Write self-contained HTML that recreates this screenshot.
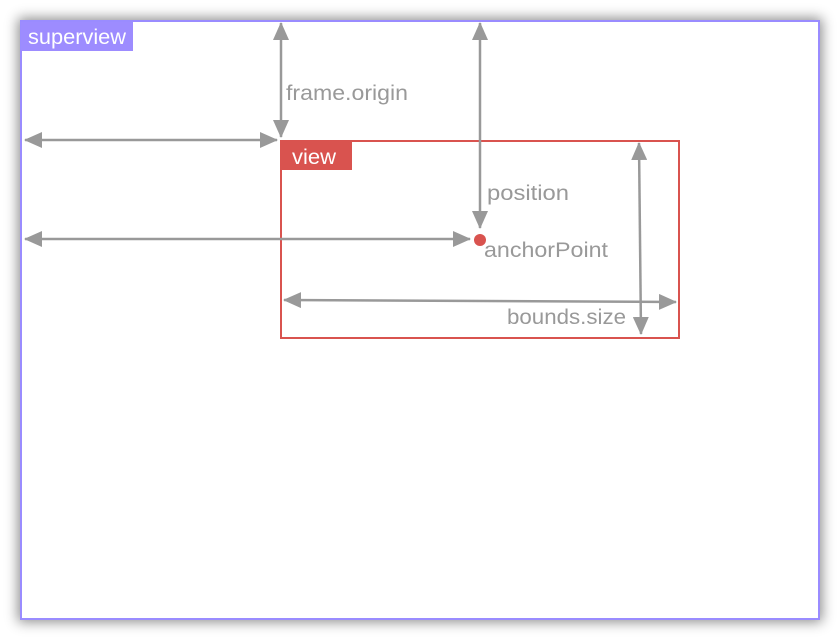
<!DOCTYPE html>
<html><head><style>
body{margin:0;width:840px;height:640px;background:#fff;overflow:hidden;font-family:"Liberation Sans",sans-serif;position:relative}
#shd{position:absolute;left:21px;top:21px;width:798px;height:598px;box-shadow:0 0 12px 3px rgba(0,0,0,0.45);background:#fff}
svg{position:absolute;left:0;top:0}
</style></head><body>
<div id="shd"></div>
<svg width="840" height="640" xmlns="http://www.w3.org/2000/svg">
<defs>
<marker id="a" viewBox="0 0 18 16" refX="17" refY="8" markerWidth="18" markerHeight="16" markerUnits="userSpaceOnUse" orient="auto-start-reverse"><path d="M0 0L18 8L0 16z" fill="#999"/></marker>
</defs>
<rect x="21" y="21" width="798" height="598" fill="#fff" stroke="#9a8cff" stroke-width="2"/>
<rect x="21" y="22" width="112" height="29" fill="#9d8cff"/>
<text x="28" y="44" font-size="21" fill="#fff" textLength="98" lengthAdjust="spacingAndGlyphs">superview</text>
<rect x="281" y="141" width="398" height="197" fill="none" stroke="#d9534f" stroke-width="2"/>
<rect x="282" y="142" width="70" height="28" fill="#d9534f"/>
<text x="292" y="164" font-size="21" fill="#fff" textLength="44" lengthAdjust="spacingAndGlyphs">view</text>
<g stroke="#999" stroke-width="2.5" fill="none">
<line x1="281" y1="23" x2="281" y2="137" marker-start="url(#a)" marker-end="url(#a)"/>
<line x1="25" y1="140" x2="277" y2="140" marker-start="url(#a)" marker-end="url(#a)"/>
<line x1="480" y1="23" x2="480" y2="228" marker-start="url(#a)" marker-end="url(#a)"/>
<line x1="25" y1="239" x2="470" y2="239" marker-start="url(#a)" marker-end="url(#a)"/>
<line x1="284" y1="300" x2="676" y2="302" marker-start="url(#a)" marker-end="url(#a)"/>
<line x1="639" y1="143" x2="641" y2="334" marker-start="url(#a)" marker-end="url(#a)"/>
</g>
<circle cx="480" cy="240" r="6" fill="#d9534f"/>
<g font-size="21" fill="#999">
<text x="286" y="100" textLength="122" lengthAdjust="spacingAndGlyphs">frame.origin</text>
<text x="487" y="200" textLength="82" lengthAdjust="spacingAndGlyphs">position</text>
<text x="484" y="257" textLength="124" lengthAdjust="spacingAndGlyphs">anchorPoint</text>
<text x="507" y="324" textLength="119" lengthAdjust="spacingAndGlyphs">bounds.size</text>
</g>
</svg>
</body></html>
